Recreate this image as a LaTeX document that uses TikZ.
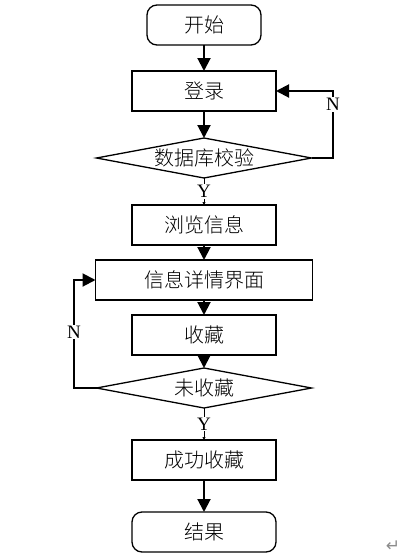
\documentclass[tikz,border=0pt]{standalone}
\usepackage{fontspec}
\setmainfont{Liberation Serif}
\newfontfamily\cjk{Noto Sans CJK SC Light}
\newfontfamily\symfont{DejaVu Sans}
\usetikzlibrary{positioning,arrows.meta,shapes.geometric,calc}
\tikzset{
 term/.style={rectangle, rounded corners=10pt, draw=black, line width=1.3pt,
 outer sep=0pt, minimum width=114pt, minimum height=40pt, inner sep=0pt,
 font=\cjk\fontsize{20}{22}\selectfont},
 blk/.style={rectangle, draw=black, line width=1.3pt, outer sep=0pt,
 minimum width=144pt, minimum height=40pt, inner sep=0pt,
 font=\cjk\fontsize{20}{22}\selectfont},
 wblk/.style={blk, minimum width=217pt},
 dec/.style={diamond, aspect=5.5, draw=black, line width=1.3pt, outer sep=0pt,
 minimum width=215pt, minimum height=40pt, inner sep=0pt,
 font=\cjk\fontsize{20}{22}\selectfont},
 fl/.style={-{Triangle[length=13pt,width=13pt]}, draw=black, line width=2pt},
 flt/.style={-{Triangle[length=3pt,width=3pt]}, draw=black, line width=0.5pt},
 lbl/.style={fill=white, inner sep=1pt, font=\fontsize{19}{21}\selectfont},
}

\begin{document}
\begin{tikzpicture}
 \useasboundingbox (0,0) rectangle (420pt,-560pt);
 \node[term] (start) at (204pt,-25pt) {开始};
 \node[blk, below=26pt of start] (login) {登录};
 \node[dec, below=27pt of login] (check) {数据库校验};
 \node[blk, below=27pt of check] (browse) {浏览信息};
 \node[wblk, below=15pt of browse] (detail) {信息详情界面};
 \node[blk, below=15pt of detail] (fav) {收藏};
 \node[dec, below=13pt of fav] (notfav) {未收藏};
 \node[blk, below=32pt of notfav] (done) {成功收藏};
 \node[term, minimum width=144pt, below=32pt of done] (finish) {结果};
 \node[text=black!45, font=\symfont\fontsize{17}{19}\selectfont] (mark) at (393pt,-546pt) {↵};

 \coordinate (rloop) at ($(check.east)+(21.5pt,0)$);
 \coordinate (lloop) at ($(notfav.west)+(-22.5pt,0)$);

 \draw[fl] (start) -- (login);
 \draw[fl] (login) -- (check);
 \draw[flt] (check) -- node[lbl]{Y} (browse);
 \draw[fl] (browse) -- (detail);
 \draw[fl] (detail) -- (fav);
 \draw[fl] (fav) -- (notfav);
 \draw[flt] (notfav) -- node[lbl]{Y} (done);
 \draw[fl] (done) -- (finish);
 % back loops
 \draw[fl] (check.east) -- (rloop) |- node[lbl, pos=0.4]{N} (login.east);
 \draw[fl] (notfav.west) -- (lloop) |- node[lbl, pos=0.26]{N} (detail.west);
\end{tikzpicture}
\end{document}
